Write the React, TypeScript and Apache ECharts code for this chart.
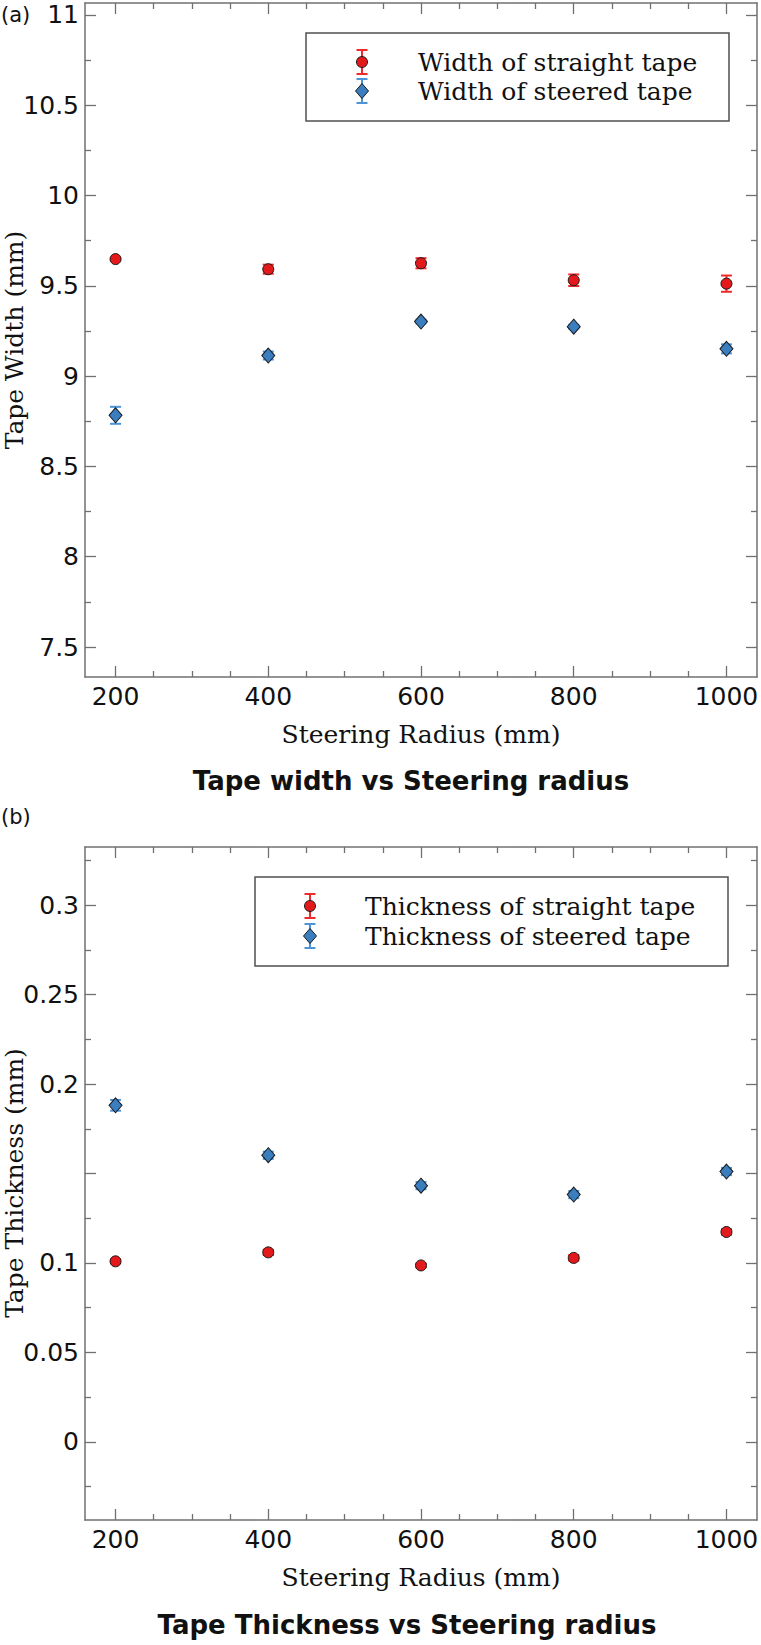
import React, { useEffect, useRef } from "react";
import * as echarts from "echarts";

// ---------- data ----------
const radii = [200, 400, 600, 800, 1000];

const widthStraight = [9.648, 9.592, 9.625, 9.531, 9.512];
const widthStraightErr = [0.008, 0.025, 0.028, 0.032, 0.045];
const widthSteered = [8.783, 9.114, 9.302, 9.274, 9.151];
const widthSteeredErr = [0.047, 0.022, 0.01, 0.01, 0.025];

const thickStraight = [0.1009, 0.1059, 0.0986, 0.1028, 0.1173];
const thickStraightErr = [0.001, 0.0015, 0.001, 0.0015, 0.0015];
const thickSteered = [0.1881, 0.1602, 0.1432, 0.1382, 0.1511];
const thickSteeredErr = [0.003, 0.002, 0.002, 0.002, 0.002];

const xMajorTicks = [200, 400, 600, 800, 1000];
const xMinorTicks = [250, 300, 350, 450, 500, 550, 650, 700, 750, 850, 900, 950];
const xTickLabels = [200, 400, 600, 800, 1000];

const widthMajorTicks = [7.5, 8, 8.5, 9, 9.5, 10, 10.5, 11];
const widthMinorTicks = [7.75, 8.25, 8.75, 9.25, 9.75, 10.25, 10.75];
const widthTickLabels = [7.5, 8, 8.5, 9, 9.5, 10, 10.5, 11];

const thickMajorTicks = [0, 0.05, 0.1, 0.15, 0.2, 0.25, 0.3];
const thickMinorTicks = [-0.025, 0.025, 0.075, 0.125, 0.175, 0.225, 0.275, 0.325];
const thickTickLabels = [0, 0.05, 0.1, 0.2, 0.25, 0.3];

const legendWidth = ["Width of straight tape", "Width of steered tape"];
const legendThick = ["Thickness of straight tape", "Thickness of steered tape"];

// ---------- styles ----------
const RED = "#e3191c";
const RED_ERR = "#ee2a2a";
const BLUE = "#3a7ebf";
const BLUE_ERR = "#4d94d6";
const AXIS = "#707070";
const TXT = "#111";
const SANS = "DejaVu Sans";
const SERIF = "DejaVu Serif";

function axisSet(
  kind: "x" | "y",
  grid: number,
  min: number,
  max: number,
  majors: number[],
  minors: number[],
  labels: number[],
  name: string,
  nameGap: number
) {
  const posMain = kind === "x" ? "bottom" : "left";
  const posOpp = kind === "x" ? "top" : "right";
  const base = { type: "value", gridIndex: grid, min, max, splitLine: { show: false } };
  const line = { show: true, onZero: false, lineStyle: { color: AXIS, width: 1.5 } };
  const noLine = { show: false, onZero: false };
  const tick = (vals: number[], len: number) => ({
    show: true,
    inside: true,
    length: len,
    customValues: vals,
    lineStyle: { color: AXIS, width: 1.3 },
  });
  return [
    {
      ...base,
      position: posMain,
      axisLine: line,
      axisTick: tick(majors, 11),
      axisLabel: {
        show: true,
        customValues: labels,
        margin: kind === "x" ? 7 : 6,
        fontFamily: SANS,
        fontSize: 25,
        color: TXT,
        formatter: (v: number) => String(v),
      },
      name,
      nameLocation: "middle",
      nameGap,
      nameTextStyle: { fontFamily: SERIF, fontSize: 25, color: TXT },
    },
    {
      ...base,
      position: posMain,
      axisLine: noLine,
      axisTick: tick(minors, 6),
      axisLabel: { show: false },
    },
    {
      ...base,
      position: posOpp,
      axisLine: line,
      axisTick: tick(majors, 11),
      axisLabel: { show: false },
    },
    {
      ...base,
      position: posOpp,
      axisLine: noLine,
      axisTick: tick(minors, 6),
      axisLabel: { show: false },
    },
  ];
}

function errSeries(xIdx: number, yIdx: number, vals: number[], errs: number[], color: string) {
  return {
    type: "custom",
    coordinateSystem: "cartesian2d",
    xAxisIndex: xIdx,
    yAxisIndex: yIdx,
    z: 2,
    silent: true,
    encode: { x: 0, y: [1, 2] },
    data: radii.map((r, i) => [r, vals[i] - errs[i], vals[i] + errs[i]]),
    renderItem: (params: any, api: any) => {
      const x = api.value(0);
      const lo = api.coord([x, api.value(1)]);
      const hi = api.coord([x, api.value(2)]);
      const st = { stroke: color, lineWidth: 2 };
      return {
        type: "group",
        children: [
          { type: "line", shape: { x1: lo[0], y1: lo[1], x2: hi[0], y2: hi[1] }, style: st },
          { type: "line", shape: { x1: lo[0] - 5.5, y1: lo[1], x2: lo[0] + 5.5, y2: lo[1] }, style: st },
          { type: "line", shape: { x1: hi[0] - 5.5, y1: hi[1], x2: hi[0] + 5.5, y2: hi[1] }, style: st },
        ],
      };
    },
  };
}

function pointSeries(xIdx: number, yIdx: number, vals: number[], kind: "circle" | "diamond", name: string) {
  return {
    type: "scatter",
    name,
    xAxisIndex: xIdx,
    yAxisIndex: yIdx,
    z: 3,
    symbol: kind,
    symbolSize: kind === "circle" ? 11 : [13, 15],
    itemStyle: {
      color: kind === "circle" ? RED : BLUE,
      borderColor: "#1a1a1a",
      borderWidth: 1,
      opacity: 1,
    },
    data: radii.map((r, i) => [r, vals[i]]),
  };
}

function legendGraphic(
  box: { x: number; y: number; w: number; h: number },
  mx: number,
  rows: number[],
  tx: number,
  texts: string[]
) {
  const els: any[] = [
    {
      type: "rect",
      shape: { x: box.x, y: box.y, width: box.w, height: box.h },
      style: { fill: "#fff", stroke: "#505050", lineWidth: 1.5 },
      z: 100,
    },
  ];
  const colors = [RED_ERR, BLUE_ERR];
  rows.forEach((ry, i) => {
    const st = { stroke: colors[i], lineWidth: 2 };
    els.push({ type: "line", shape: { x1: mx, y1: ry - 12, x2: mx, y2: ry + 12 }, style: st, z: 101 });
    els.push({ type: "line", shape: { x1: mx - 5.5, y1: ry - 12, x2: mx + 5.5, y2: ry - 12 }, style: st, z: 101 });
    els.push({ type: "line", shape: { x1: mx - 5.5, y1: ry + 12, x2: mx + 5.5, y2: ry + 12 }, style: st, z: 101 });
    if (i === 0) {
      els.push({
        type: "circle",
        shape: { cx: mx, cy: ry, r: 5.5 },
        style: { fill: RED, stroke: "#1a1a1a", lineWidth: 1 },
        z: 102,
      });
    } else {
      els.push({
        type: "polygon",
        shape: { points: [[mx, ry - 7.5], [mx + 6.5, ry], [mx, ry + 7.5], [mx - 6.5, ry]] },
        style: { fill: BLUE, stroke: "#1a1a1a", lineWidth: 1 },
        z: 102,
      });
    }
    els.push({
      type: "text",
      x: tx,
      y: ry,
      style: {
        text: texts[i],
        fontFamily: SERIF,
        fontSize: 25,
        fill: TXT,
        textAlign: "left",
        textVerticalAlign: "middle",
      },
      z: 102,
    });
  });
  return els;
}

function yNameGraphic(text: string, cx: number, cy: number) {
  return {
    type: "text",
    x: cx,
    y: cy,
    rotation: Math.PI / 2,
    style: {
      text,
      fontFamily: SERIF,
      fontSize: 25,
      fill: TXT,
      textAlign: "center",
      textVerticalAlign: "middle",
    },
    z: 50,
  };
}

export default function App() {
  const ref = useRef<HTMLDivElement>(null);

  useEffect(() => {
    if (!ref.current) return;
    const chart = echarts.init(ref.current, undefined, { renderer: "svg" });

    const xA0 = axisSet("x", 0, 160, 1040, xMajorTicks, xMinorTicks, xTickLabels, "Steering Radius (mm)", 45);
    const xA1 = axisSet("x", 1, 160, 1040, xMajorTicks, xMinorTicks, xTickLabels, "Steering Radius (mm)", 45);
    const yA0 = axisSet("y", 0, 7.334, 11.066, widthMajorTicks, widthMinorTicks, widthTickLabels, "", 60);
    const yA1 = axisSet("y", 1, -0.0437, 0.3325, thickMajorTicks, thickMinorTicks, thickTickLabels, "", 60);

    const titleStyle = { fontFamily: SANS, fontWeight: "bold", fontSize: 26, color: TXT };
    const tagStyle = { fontFamily: SANS, fontWeight: "normal", fontSize: 21, color: TXT };

    const option: any = {
      animation: false,
      backgroundColor: "#fff",
      title: [
        { text: "Tape width vs Steering radius", left: 411, top: 768, padding: 0, textAlign: "center", textStyle: titleStyle },
        { text: "Tape Thickness vs Steering radius", left: 407, top: 1612, padding: 0, textAlign: "center", textStyle: titleStyle },
        { text: "(a)", left: 1, top: 4, padding: 0, textStyle: tagStyle },
        { text: "(b)", left: 1, top: 806, padding: 0, textStyle: tagStyle },
      ],
      grid: [
        { left: 85, top: 3, width: 672, height: 674, containLabel: false, outerBoundsMode: "none" },
        { left: 85, top: 847, width: 672, height: 673, containLabel: false, outerBoundsMode: "none" },
      ],
      xAxis: [...xA0, ...xA1],
      yAxis: [...yA0, ...yA1],
      series: [
        errSeries(0, 0, widthStraight, widthStraightErr, RED_ERR),
        errSeries(0, 0, widthSteered, widthSteeredErr, BLUE_ERR),
        pointSeries(0, 0, widthStraight, "circle", legendWidth[0]),
        pointSeries(0, 0, widthSteered, "diamond", legendWidth[1]),
        errSeries(4, 4, thickStraight, thickStraightErr, RED_ERR),
        errSeries(4, 4, thickSteered, thickSteeredErr, BLUE_ERR),
        pointSeries(4, 4, thickStraight, "circle", legendThick[0]),
        pointSeries(4, 4, thickSteered, "diamond", legendThick[1]),
      ],
      graphic: [
        yNameGraphic("Tape Width (mm)", 14, 340),
        yNameGraphic("Tape Thickness (mm)", 14, 1183),
        ...legendGraphic({ x: 306, y: 33, w: 423, h: 88 }, 362, [62, 91], 418, legendWidth),
        ...legendGraphic({ x: 255, y: 877, w: 473, h: 89 }, 310, [906, 936], 365, legendThick),
      ],
    };

    chart.setOption(option);
    return () => chart.dispose();
  }, []);

  return (
    <div
      ref={ref}
      style={{ position: "absolute", left: 0, top: 0, width: 761, height: 1645, background: "#fff" }}
    />
  );
}
